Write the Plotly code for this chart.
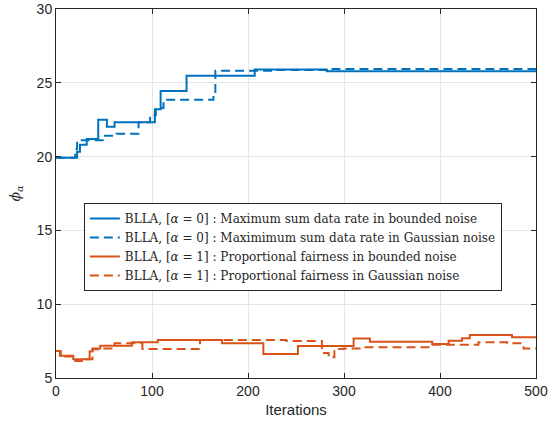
import plotly.graph_objects as go

# step data (iteration where value changes, value)
it_b0 = [0, 22, 25, 32, 44, 53, 61, 103, 109, 136, 207, 282, 500]
phi_b0 = [19.93, 20.33, 20.8, 21.2, 22.5, 22.03, 22.32, 23.2, 24.44, 25.48, 25.9, 25.78, 25.78]

it_g0 = [0, 20, 22, 50, 63, 86, 98, 104, 112, 164, 166, 230, 282, 500]
phi_g0 = [19.93, 20.5, 21.1, 21.42, 21.55, 22.32, 22.8, 23.3, 23.85, 24.3, 25.82, 25.86, 25.93, 25.93]

it_b1 = [0, 4, 18, 35, 38, 46, 79, 106, 173, 216, 252, 310, 327, 392, 409, 423, 431, 475, 500]
phi_b1 = [6.83, 6.51, 6.27, 6.8, 7.0, 7.19, 7.42, 7.57, 7.35, 6.63, 7.17, 7.68, 7.46, 7.30, 7.53, 7.69, 7.91, 7.76, 7.76]

it_g1 = [0, 5, 20, 27, 38, 45, 61, 90, 150, 240, 277, 284, 290, 300, 320, 392, 440, 470, 487, 500]
phi_g1 = [6.83, 6.45, 6.15, 6.27, 6.95, 7.0, 7.35, 6.97, 7.57, 7.5, 6.7, 6.4, 6.97, 7.0, 7.08, 7.26, 7.42, 7.35, 7.0, 7.0]

names = [
    "BLLA, [<i>α</i> = 0] : Maximum sum data rate in bounded noise",
    "BLLA, [<i>α</i> = 0] : Maximimum sum data rate in Gaussian noise",
    "BLLA, [<i>α</i> = 1] : Proportional fairness in bounded noise",
    "BLLA, [<i>α</i> = 1] : Proportional fairness in Gaussian noise",
]

blue = '#0072BD'
orange = '#D95319'

fig = go.Figure()
series = [(it_b0, phi_b0, blue, 'solid'), (it_g0, phi_g0, blue, '9px,5px'),
          (it_b1, phi_b1, orange, 'solid'), (it_g1, phi_g1, orange, '9px,5px')]
for (x, y, c, d), n in zip(series, names):
    fig.add_trace(go.Scatter(
        x=x, y=y, name=n, mode='lines',
        line=dict(color=c, width=2, dash=d, shape='hv'),
    ))

axis_common = dict(
    showline=True, linecolor='#262626', linewidth=1, mirror='ticks',
    ticks='inside', ticklen=5, tickcolor='#262626',
    showgrid=True, gridcolor='#e5e5e5', gridwidth=1,
    zeroline=False, automargin=False,
    tickfont=dict(family='Liberation Sans, Arial', size=14, color='#262626'),
)

fig.update_xaxes(
    range=[0, 500], tickvals=[0, 100, 200, 300, 400, 500],
    title=dict(text='Iterations', font=dict(family='Liberation Sans, Arial', size=15, color='#262626'), standoff=6),
    **axis_common,
)
fig.update_yaxes(
    range=[5, 30], tickvals=[5, 10, 15, 20, 25, 30],
    title=dict(text='<i>ϕ</i><sub><i>α</i></sub>', font=dict(family='DejaVu Serif', size=14, color='#262626'), standoff=12),
    **axis_common,
)

fig.update_layout(
    width=548, height=429,
    plot_bgcolor='white', paper_bgcolor='white',
    margin=dict(l=56, r=12, t=9, b=51),
    showlegend=True,
    legend=dict(
        x=0.058, y=0.474, xanchor='left', yanchor='top',
        bgcolor='white', bordercolor='#262626', borderwidth=1,
        font=dict(family='DejaVu Serif', size=12, color='#262626'),
        tracegroupgap=0, itemwidth=30,
    ),
)

fig.write_html("out.html", config={'displayModeBar': False},
               post_script="document.body.style.margin='0';")
